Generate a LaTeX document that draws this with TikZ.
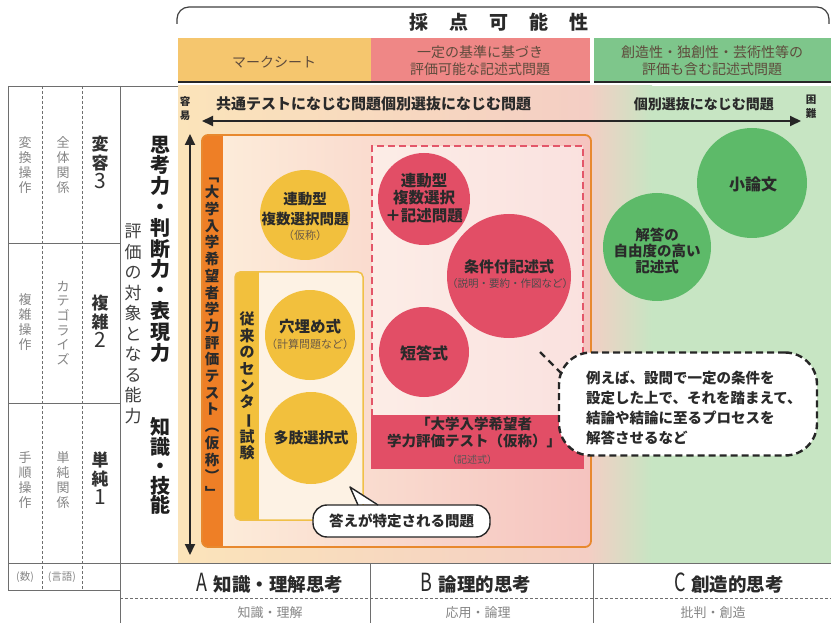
\documentclass[tikz,border=0pt]{standalone}
\usepackage{graphicx}
\usepackage{fontspec}
\setmainfont{Noto Sans CJK JP}
\usetikzlibrary{arrows.meta}
\newcommand\myfs[2]{\fontsize{#1}{#2}\selectfont}
\definecolor{bandO}{HTML}{F5C66E}
\definecolor{bandP}{HTML}{EF8786}
\definecolor{bandG}{HTML}{7EC68B}
\definecolor{bgO}{HTML}{FBE4BA}
\definecolor{bgP}{HTML}{F4CEC4}
\definecolor{bgG}{HTML}{C7E5C3}
\definecolor{boxL}{HTML}{FDEEDB}
\definecolor{boxR}{HTML}{F5C3BF}
\definecolor{orB}{HTML}{E8892E}
\definecolor{orBar}{HTML}{EE7F26}
\definecolor{yelC}{HTML}{F2C03D}
\definecolor{yelB}{HTML}{F0C048}
\definecolor{yelIn}{HTML}{FDF2E4}
\definecolor{redC}{HTML}{E24E66}
\definecolor{redD}{HTML}{E35669}
\definecolor{grnC}{HTML}{5DBA69}
\definecolor{txt}{HTML}{2A2A2A}
\definecolor{bandT}{HTML}{5E4B3C}
\definecolor{grayT}{HTML}{858585}
\definecolor{lineG}{HTML}{6E6E6E}
\definecolor{subT}{HTML}{6B5A45}
\begin{document}
\begin{tikzpicture}[x=1pt,y=-1pt,
  vt/.style={align=center, inner sep=0pt},
  ccirc/.style={circle, inner sep=0pt, draw=none},
  ctext/.style={align=center, inner sep=0pt, text=txt, font=\bfseries\myfs{15}{17.5}},
  subtxt/.style={inner sep=0pt, text=subT, font=\myfs{11}{11}},
  tline/.style={draw=lineG, line width=0.9pt},
  tdash/.style={draw=lineG, line width=0.9pt, dash pattern=on 3pt off 2pt},
  bigarrow/.style={line width=2pt, draw=black!85, {Triangle[length=11pt,width=10pt]}-{Triangle[length=11pt,width=10pt]}}
]
\useasboundingbox (0,0) rectangle (831,623);
\fill[white] (0,0) rectangle (831,623);

% ---------- background of main area
\shade[left color=bgO, right color=bgP] (178,86) rectangle (588,563);
\shade[left color=bgP, right color=bgG] (587.5,86) rectangle (652,563);
\fill[bgG] (651.5,86) rectangle (831,563);

% ---------- header
\draw[black!75, line width=1.2pt, rounded corners=12pt] (177,24) -- (177,7) -- (829,7) -- (829,24);
\node[font=\bfseries\myfs{19}{19}, text=txt, inner sep=0pt] (hdr) at (499,22) {採\hspace{21pt}点\hspace{21pt}可\hspace{21pt}能\hspace{21pt}性};

\fill[bandO] (178,38) rectangle (371,82);
\fill[bandP] (371,38) rectangle (590,82);
\fill[bandG] (594,38) rectangle (831,82);
\draw[black!85, line width=2.2pt] (178,82) -- (590,82);
\draw[black!85, line width=2.2pt] (594,82) -- (831,82);
\node[font=\myfs{14}{14}, text=bandT, inner sep=0pt] (b1) at (274,62) {マークシート};
\node[font=\myfs{14}{17}, text=bandT, align=center, inner sep=0pt] (b2) at (480,61) {一定の基準に基づき\\評価可能な記述式問題};
\node[font=\myfs{14}{17}, text=bandT, align=center, inner sep=0pt] (b3) at (712,61) {創造性・独創性・芸術性等の\\評価も含む記述式問題};

% ---------- left table
\draw[tline] (8,86) -- (178,86);
\draw[tline] (8,86) -- (8,590);
\draw[tline] (120,86) -- (120,623);
\draw[tline] (8,243) -- (120,243);
\draw[tline] (8,403) -- (120,403);
\draw[tline] (8,563) -- (831,563);
\draw[tline] (8,590) -- (120,590);
\draw[tdash] (42,86) -- (42,590);
\draw[tdash] (82,86) -- (82,590);
\draw[tline] (370,563) -- (370,623);
\draw[tline] (593,563) -- (593,623);
\draw[tdash] (120,598) -- (831,598);

\node[vt, font=\myfs{13}{15}, text=grayT] (l11) at (25,165) {変\\換\\操\\作};
\node[vt, font=\myfs{13}{15}, text=grayT] (l12) at (25,322) {複\\雑\\操\\作};
\node[vt, font=\myfs{13}{15}, text=grayT] (l13) at (25,480) {手\\順\\操\\作};
\node[vt, font=\myfs{13}{15}, text=grayT] (l21) at (63,165) {全\\体\\関\\係};
\node[vt, font=\myfs{13}{14.6}, text=grayT] (l22) at (63,323) {カ\\テ\\ゴ\\ラ\\イ\\ズ};
\node[vt, font=\myfs{13}{15}, text=grayT] (l23) at (63,480) {単\\純\\関\\係};
\node[vt, font=\bfseries\myfs{17}{19}, text=black!80] (l31) at (100,162) {変\\容\\{\mdseries\myfs{21}{19}3}};
\node[vt, font=\bfseries\myfs{17}{19}, text=black!80] (l32) at (100,321) {複\\雑\\{\mdseries\myfs{21}{19}2}};
\node[vt, font=\bfseries\myfs{17}{19}, text=black!80] (l33) at (100,478) {単\\純\\{\mdseries\myfs{21}{19}1}};
\node[font=\myfs{10.5}{11}, text=grayT, inner sep=0pt] (n1) at (25,577) {(数)};
\node[font=\myfs{10.5}{11}, text=grayT, inner sep=0pt] (n2) at (62,577) {(言語)};

\node[vt, font=\bfseries\myfs{20}{20.8}, text=black!88] (shiko) at (160,249) {思\\考\\力\\・\\判\\断\\力\\・\\表\\現\\力};
\node[vt, font=\myfs{17}{20.5}, text=black!75] (hyoka) at (133,324) {評\\価\\の\\対\\象\\と\\な\\る\\能\\力};
\node[vt, font=\bfseries\myfs{20}{19.5}, text=black!88] (chishiki) at (160,466) {知\\識\\・\\技\\能};

% ---------- axes
\coordinate (ax1) at (202,121);
\coordinate (ax2) at (801,121);
\draw[bigarrow] (ax1) -- (ax2);
\coordinate (ay1) at (190,134);
\coordinate (ay2) at (190,555);
\draw[bigarrow] (ay1) -- (ay2);
\node[anchor=west, font=\bfseries\myfs{15}{15}, text=txt, inner sep=0pt] (axt1) at (216,104) {共通テストになじむ問題個別選抜になじむ問題};
\node[anchor=east, font=\bfseries\myfs{14}{14}, text=txt, inner sep=0pt] (axt2) at (774,104) {個別選抜になじむ問題};
\node[vt, font=\bfseries\myfs{10.5}{14}, text=txt] (easy) at (185,109) {容\\易};
\node[vt, font=\bfseries\myfs{10.5}{14}, text=txt] (hard) at (811,107) {困\\難};

% ---------- orange box
\shade[left color=boxL, right color=boxR, rounded corners=6pt] (202,135) rectangle (591,547);
\begin{scope}
\clip[rounded corners=6pt] (202,135) rectangle (591,547);
\fill[orBar] (202,135) rectangle (223,547);
\end{scope}
\draw[orB, line width=1.8pt, rounded corners=6pt] (202,135) rectangle (591,547);
\node[vt, font=\bfseries\myfs{14.5}{16.7}, text=txt] (bart) at (212,338) {﹁\\大\\学\\入\\学\\希\\望\\者\\学\\力\\評\\価\\テ\\ス\\ト\\︵\\仮\\称\\︶\\﹂};

% ---------- yellow box
\fill[yelIn, rounded corners=5pt] (235,272) rectangle (363,520);
\begin{scope}
\clip[rounded corners=5pt] (235,272) rectangle (363,520);
\fill[yelC] (235,272) rectangle (259,520);
\end{scope}
\draw[yelB, line width=1.5pt, rounded corners=5pt] (235,272) rectangle (363,520);
\node[vt, font=\bfseries\myfs{15}{16.6}, text=txt] (center) at (247,386) {従\\来\\の\\セ\\ン\\タ\\\rotatebox[origin=c]{-90}{ー}\\試\\験};

% ---------- pink dashed box
\fill[white, opacity=0.5] (372,146) rectangle (583,416);
\draw[redD, line width=2pt, dash pattern=on 7pt off 4pt] (372,416) -- (372,146) -- (583,146) -- (583,416);
\node[fill=redC, minimum width=213pt, minimum height=54pt, inner sep=0pt] (rbox) at (477.5,442) {};
\node[vt, font=\bfseries\myfs{14.5}{17}, text=txt] (rboxt) at (474,433) {「大学入学希望者\\学力評価テスト（仮称）」};
\node[font=\myfs{10}{10}, text=txt!80, inner sep=0pt] (rboxs) at (472,460) {（記述式）};

% ---------- circles
\node[ccirc, fill=yelC, minimum size=90pt] (y1) at (305,215) {};
\node[ctext, font=\bfseries\myfs{14.5}{20}] (y1t) at (305,209) {連動型\\複数選択問題};
\node[subtxt] (y1s) at (305,235) {（仮称）};
\node[ccirc, fill=yelC, minimum size=90pt] (y2) at (310,335) {};
\node[ctext, font=\bfseries\myfs{15.5}{15.5}] (y2t) at (310,327) {穴埋め式};
\node[subtxt] (y2s) at (310,344) {（計算問題など）};
\node[ccirc, fill=yelC, minimum size=92pt] (y3) at (311,438) {};
\node[ctext] (y3t) at (311,438) {多肢選択式};

\node[ccirc, fill=redC, minimum size=92pt] (r1) at (424,199) {};
\node[ctext, font=\bfseries\myfs{15.5}{17.5}] (r1t) at (424,198) {連動型\\複数選択\\＋記述問題};
\node[ccirc, fill=redC, minimum size=124pt] (r2) at (509,276) {};
\node[ctext] (r2t) at (509,267) {条件付記述式};
\node[subtxt, text=txt!85, font=\myfs{10.5}{10.5}] (r2s) at (510,284) {（説明・要約・作図など）};
\node[ccirc, fill=redC, minimum size=90pt] (r3) at (424,352) {};
\node[ctext, font=\bfseries\myfs{16}{16}] (r3t) at (424,353) {短答式};

\node[ccirc, fill=grnC, minimum size=108pt] (g1) at (657,247) {};
\node[ctext, font=\bfseries\myfs{14.5}{16}] (g1t) at (657,251) {解答の\\自由度の高い\\記述式};
\node[ccirc, fill=grnC, minimum size=110pt] (g2) at (752,183) {};
\node[ctext, font=\bfseries\myfs{16}{16}] (g2t) at (753,184) {小論文};

% ---------- thought bubble
\node[draw=black!85, line width=2.4pt, dash pattern=on 7pt off 4pt, fill=white, rounded corners=32pt, minimum width=258pt, minimum height=103pt, inner sep=0pt] (bub) at (688,404) {};
\node[anchor=west, align=left, inner sep=0pt, font=\bfseries\myfs{14.5}{20.3}, text=txt] (bubt) at (586,408) {例えば、設問で一定の条件を\\設定した上で、それを踏まえて、\\結論や結論に至るプロセスを\\解答させるなど};
\coordinate (tail1) at (540,352);
\coordinate (tail2) at (562,374);
\draw[black!85, line width=2.4pt, dash pattern=on 7pt off 5pt] (tail1) -- (tail2);

% ---------- speech bubble
\node[draw=black!85, line width=1.4pt, fill=white, rounded corners=14pt, minimum width=177pt, minimum height=32pt, inner sep=0pt, font=\bfseries\myfs{14.5}{14.5}, text=txt] (sp) at (401.5,521) {答えが特定される問題};
\coordinate (sptip) at (350,487);
\coordinate (spa) at (358,505);
\coordinate (spb) at (378,505);
\fill[white] ([yshift=1.2pt]spa) -- (sptip) -- ([yshift=1.2pt]spb) -- cycle;
\draw[black!85, line width=1.4pt, line join=round] (spa) -- (sptip) -- (spb);

% ---------- bottom categories
\node[font=\bfseries\myfs{18.5}{18.5}, text=txt, inner sep=0pt] (ca) at (270,583) {\scalebox{0.72}[1]{\mdseries\myfs{25}{25}A}\hspace{6pt}知識・理解思考};
\node[font=\bfseries\myfs{18.5}{18.5}, text=txt, inner sep=0pt] (cb) at (476,583) {\scalebox{0.72}[1]{\mdseries\myfs{25}{25}B}\hspace{6pt}論理的思考};
\node[font=\bfseries\myfs{18.5}{18.5}, text=txt, inner sep=0pt] (cc) at (729,583) {\scalebox{0.72}[1]{\mdseries\myfs{25}{25}C}\hspace{6pt}創造的思考};
\node[font=\myfs{13}{13}, text=grayT, inner sep=0pt] (da) at (270,613) {知識・理解};
\node[font=\myfs{13}{13}, text=grayT, inner sep=0pt] (db) at (478,613) {応用・論理};
\node[font=\myfs{13}{13}, text=grayT, inner sep=0pt] (dc) at (713,613) {批判・創造};
\end{tikzpicture}
\end{document}
